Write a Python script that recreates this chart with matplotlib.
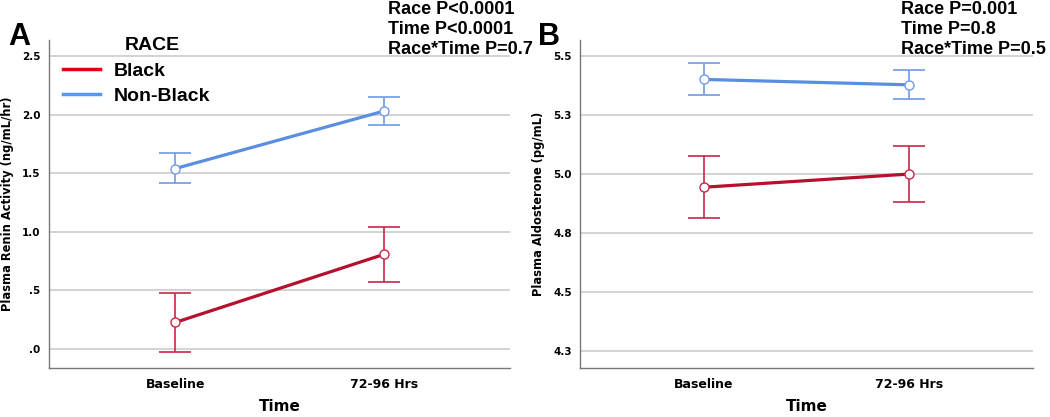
import matplotlib
matplotlib.use("Agg")
import matplotlib.pyplot as plt
from matplotlib.lines import Line2D

times = ["Baseline", "72-96 Hrs"]
groups = ["Black", "Non-Black"]

# Panel A: Plasma renin activity
renin_mean = {"Black": [0.227, 0.807], "Non-Black": [1.54, 2.03]}
renin_lo = {"Black": [-0.023, 0.573], "Non-Black": [1.415, 1.91]}
renin_hi = {"Black": [0.477, 1.045], "Non-Black": [1.67, 2.15]}
renin_ticks = [0.0, 0.5, 1.0, 1.5, 2.0, 2.5]
renin_ticklabels = [".0", ".5", "1.0", "1.5", "2.0", "2.5"]

# Panel B: Plasma aldosterone
aldo_mean = {"Black": [4.944, 5.0], "Non-Black": [5.401, 5.378]}
aldo_lo = {"Black": [4.812, 4.881], "Non-Black": [5.335, 5.319]}
aldo_hi = {"Black": [5.076, 5.120], "Non-Black": [5.469, 5.439]}
aldo_ticks = [4.25, 4.5, 4.75, 5.0, 5.25, 5.5]
aldo_ticklabels = ["4.3", "4.5", "4.8", "5.0", "5.3", "5.5"]

stats_a = ["Race P<0.0001", "Time P<0.0001", "Race*Time P=0.7"]
stats_b = ["Race P=0.001", "Time P=0.8", "Race*Time P=0.5"]

line_col = {"Black": "#B5102E", "Non-Black": "#5A8EE0"}
err_col = {"Black": "#C8284C", "Non-Black": "#6F9BE6"}
legend_col = {"Black": "#E00010", "Non-Black": "#5599EE"}

fig = plt.figure(figsize=(10.5, 4.17), dpi=100)
axA = fig.add_axes([49/1050, 1-368/417, (510-49)/1050, (368-40)/417])
axB = fig.add_axes([580/1050, 1-368/417, (1033-580)/1050, (368-40)/417])

x = [0, 1]


def draw(ax, mean, lo, hi, ticks, ticklabels, ylim, ylabel, margin):
    for g in groups:
        m = mean[g]
        yerr = [[m[i]-lo[g][i] for i in range(2)], [hi[g][i]-m[i] for i in range(2)]]
        ax.errorbar(x, m, yerr=yerr, fmt="none", ecolor=err_col[g], elinewidth=1.2,
                    capsize=11.5, capthick=1.2, zorder=3)
        ax.plot(x, m, color=line_col[g], lw=2.3, zorder=4)
        ax.plot(x, m, 'o', mfc="white", mec=err_col[g], mew=1.0, ms=6.5, zorder=5)
    ax.set_xlim(-margin, 1+margin)
    ax.set_ylim(*ylim)
    ax.set_yticks(ticks)
    ax.set_yticklabels(ticklabels, fontsize=7.5, fontweight="bold", family="DejaVu Sans")
    ax.set_xticks(x)
    ax.set_xticklabels(times, fontsize=9, fontweight="bold", family="DejaVu Sans")
    ax.tick_params(length=0, pad=6)
    ax.tick_params(axis="x", pad=7)
    ax.yaxis.grid(True, color="#d0d0d0", lw=1.3)
    ax.set_axisbelow(True)
    for s in ["top", "right"]:
        ax.spines[s].set_visible(False)
    for s in ["left", "bottom"]:
        ax.spines[s].set_color("#777777")
        ax.spines[s].set_linewidth(1.0)
    ax.set_ylabel(ylabel, fontsize=8.3, fontweight="bold", family="DejaVu Sans", labelpad=6)
    ax.set_xlabel("Time", fontsize=11, fontweight="bold", family="DejaVu Sans", labelpad=6)


draw(axA, renin_mean, renin_lo, renin_hi, renin_ticks, renin_ticklabels,
     (-0.162, 2.637), "Plasma Renin Activity (ng/mL/hr)", 0.606)
draw(axB, aldo_mean, aldo_lo, aldo_hi, aldo_ticks, aldo_ticklabels,
     (4.178, 5.568), "Plasma Aldosterone (pg/mL)", 0.60)

# panel letters
fig.text(8/1050, 1-45/417, "A", fontsize=22, fontweight="bold", family="Liberation Sans")
fig.text(538/1050, 1-45/417, "B", fontsize=22, fontweight="bold", family="Liberation Sans")

# stats text
for i, s in enumerate(stats_a):
    fig.text(388/1050, 1-(9+20*i)/417, s, fontsize=13, fontweight="bold",
             family="Liberation Sans", va="center")
for i, s in enumerate(stats_b):
    fig.text(901/1050, 1-(9+20*i)/417, s, fontsize=13, fontweight="bold",
             family="Liberation Sans", va="center")

# legend
fig.text(125/1050, 1-45/417, "RACE", fontsize=14, fontweight="bold",
         family="Liberation Sans", va="center")
handles = [Line2D([0], [0], color=legend_col[g], lw=2.5) for g in groups]
leg = axA.legend(handles, groups, loc="upper left",
                 bbox_to_anchor=(0.03, 0.933), frameon=False,
                 prop={"family": "Liberation Sans", "weight": "bold", "size": 14},
                 handlelength=1.9, handletextpad=0.7, labelspacing=0.4,
                 borderaxespad=0.0, borderpad=0.0)

fig.savefig("out.png", dpi=100)
